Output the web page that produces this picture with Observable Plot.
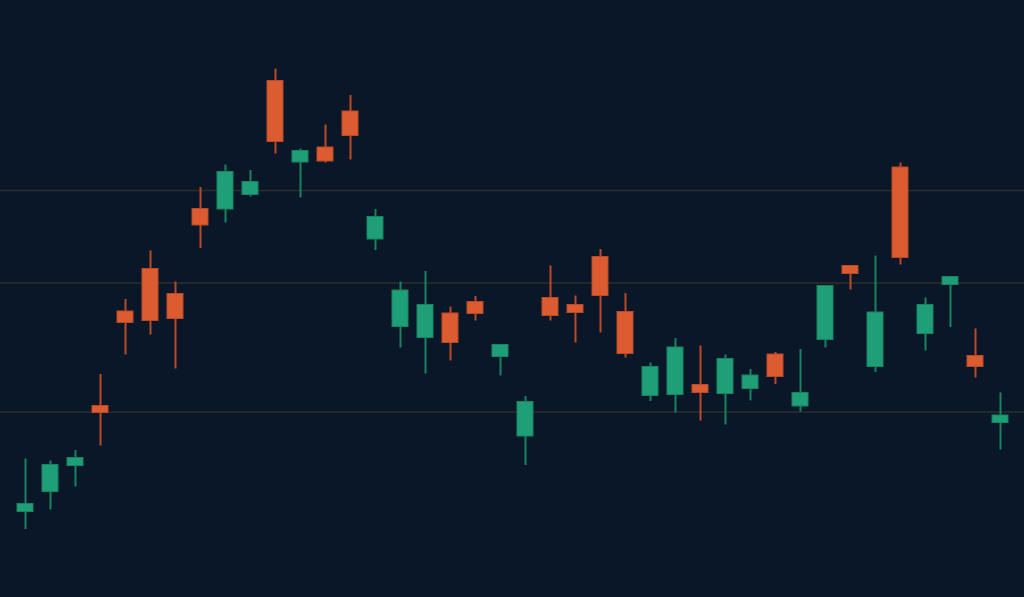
<!DOCTYPE html>
<html>
<head>
<meta charset="utf-8">
<script src="https://cdn.jsdelivr.net/npm/d3@7"></script>
<script src="https://cdn.jsdelivr.net/npm/@observablehq/plot@0.6"></script>
<style>
  html, body { margin: 0; padding: 0; background: #0a1729; overflow: hidden; }
  #chart svg { display: block; }
</style>
</head>
<body>
<div id="chart"></div>
<script>
const days = [
  "03-04","03-05","03-06","03-07","03-08","03-11","03-12","03-13","03-14","03-15",
  "03-18","03-19","03-20","03-21","03-22","03-25","03-26","03-27","03-28","04-01",
  "04-02","04-03","04-04","04-05","04-08","04-09","04-10","04-11","04-12","04-15",
  "04-16","04-17","04-18","04-19","04-22","04-23","04-24","04-25","04-26","04-29"
];
const opens  = [17.1,21.1,26.3,38.3,57.2,65.7,60.7,77.7,77.6,80.5,103.3,87.0,90.0,97.2,71.6,54.1,51.9,56.8,59.1,48.1,32.2,59.9,58.5,68.1,57.1,40.3,40.5,42.5,40.7,41.7,48.6,38.2,51.5,66.3,46.1,86.0,52.7,62.5,48.3,34.9];
const closes = [18.7,26.5,27.9,36.9,54.9,55.3,55.7,74.4,85.1,83.1,91.1,89.3,87.2,92.3,76.1,61.4,58.5,50.9,56.7,50.5,39.1,56.3,56.9,60.3,48.7,46.1,50.0,40.9,47.7,44.4,44.1,40.9,62.3,64.7,57.0,67.9,58.5,64.1,46.1,36.4];
const highs  = [27.7,27.3,29.4,44.6,59.6,69.3,63.1,82.0,86.5,85.4,105.7,89.7,94.5,100.4,77.6,63.1,65.2,58.1,60.2,50.5,40.2,66.3,60.3,69.6,60.8,46.9,51.8,50.3,48.5,45.6,49.0,49.6,62.4,66.3,68.3,86.9,59.9,64.1,53.7,40.9];
const lows   = [13.6,17.5,22.1,30.3,48.5,52.5,45.7,69.8,74.9,80.1,88.7,79.9,86.9,87.5,69.4,49.9,44.7,47.3,55.3,44.3,26.4,55.3,50.9,52.9,47.9,39.2,36.9,35.3,34.5,39.3,42.6,37.1,49.9,61.5,45.0,66.5,49.3,54.0,43.9,29.5];
const gridLevels = [81.4, 62.9, 37.1];

const candles = days.map((d, i) => ({
  day: d, open: opens[i], close: closes[i], high: highs[i], low: lows[i],
  up: closes[i] >= opens[i]
}));

const upFill = "#1f9f77", downFill = "#dc5b31";
const upLine = "#17835f", downLine = "#b94a27";

const chart = Plot.plot({
  width: 1024,
  height: 597,
  marginTop: 0,
  marginBottom: 0,
  marginLeft: 0,
  marginRight: 0,
  style: { background: "#0a1729" },
  x: { type: "band", domain: days, range: [12.5, 1012.5], paddingInner: 0.36, paddingOuter: 0.18, axis: null },
  y: { domain: [0, 119.4], axis: null },
  marks: [
    Plot.ruleY(gridLevels, { stroke: "#2e2f29", strokeWidth: 1.5 }),
    Plot.ruleX(candles, {
      x: "day", y1: "low", y2: "high",
      stroke: d => d.up ? upLine : downLine, strokeWidth: 2
    }),
    Plot.barY(candles, {
      x: "day", y1: "open", y2: "close",
      fill: d => d.up ? upFill : downFill,
      stroke: d => d.up ? upLine : downLine, strokeWidth: 1
    })
  ]
});
document.getElementById("chart").appendChild(chart);
</script>
</body>
</html>
